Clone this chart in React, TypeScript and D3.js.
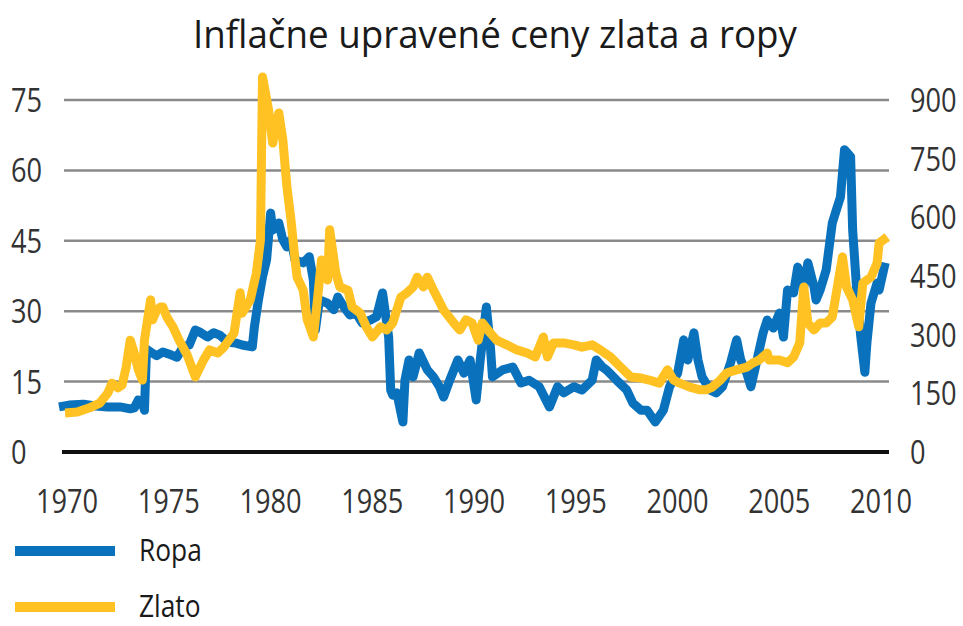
import React from "react";
import * as d3 from "d3";

const title = "Inflačne upravené ceny zlata a ropy";
const xTicks = [1970, 1975, 1980, 1985, 1990, 1995, 2000, 2005, 2010];
const leftTicks = [0, 15, 30, 45, 60, 75];
const rightTicks = [0, 150, 300, 450, 600, 750, 900];
const seriesNames = ["Ropa", "Zlato"];
const seriesColors = ["#0A72BD", "#FFC222"];

const oilYears = [1970.0, 1970.5, 1971.2, 1971.8, 1972.4, 1973.0, 1973.5, 1973.7, 1973.9, 1974.1, 1974.2, 1974.3, 1974.5, 1974.8, 1975.1, 1975.5, 1975.8, 1976.1, 1976.4, 1976.7, 1976.9, 1977.3, 1977.6, 1977.9, 1978.3, 1978.7, 1979.0, 1979.5, 1979.6, 1979.8, 1980.0, 1980.2, 1980.4, 1980.5, 1980.8, 1981.0, 1981.2, 1981.4, 1981.6, 1982.0, 1982.3, 1982.5, 1982.6, 1982.8, 1983.2, 1983.5, 1983.7, 1984.0, 1984.3, 1984.6, 1984.9, 1985.3, 1985.6, 1985.9, 1986.2, 1986.3, 1986.4, 1986.6, 1986.9, 1987.0, 1987.2, 1987.4, 1987.7, 1988.1, 1988.4, 1988.7, 1988.9, 1989.2, 1989.6, 1989.9, 1990.2, 1990.5, 1990.7, 1991.0, 1991.2, 1991.3, 1991.8, 1992.3, 1992.7, 1993.1, 1993.6, 1994.1, 1994.5, 1994.8, 1995.3, 1995.7, 1996.2, 1996.4, 1996.7, 1996.9, 1997.4, 1997.9, 1998.2, 1998.6, 1998.9, 1999.3, 1999.7, 2000.0, 2000.4, 2000.7, 2000.9, 2001.2, 2001.4, 2001.6, 2002.0, 2002.3, 2002.6, 2003.0, 2003.3, 2003.5, 2003.8, 2004.0, 2004.3, 2004.6, 2004.8, 2005.1, 2005.4, 2005.6, 2005.8, 2006.1, 2006.3, 2006.6, 2006.8, 2007.1, 2007.2, 2007.4, 2007.7, 2008.0, 2008.2, 2008.4, 2008.6, 2008.9, 2009.0, 2009.2, 2009.4, 2009.6, 2009.7, 2009.9, 2010.2, 2010.3, 2010.6];
const oilValues = [9.6, 10.0, 10.2, 9.8, 9.6, 9.6, 9.2, 9.4, 11.1, 10.4, 8.9, 21.9, 21.3, 20.5, 21.3, 20.7, 20.2, 22.4, 22.8, 26.0, 25.6, 24.5, 25.4, 24.9, 23.4, 23.2, 22.8, 22.4, 26.6, 32.4, 37.3, 40.9, 50.9, 47.3, 48.8, 45.2, 43.7, 45.2, 40.9, 40.3, 41.6, 36.6, 26.0, 32.4, 31.7, 30.3, 33.0, 30.9, 29.2, 29.6, 27.5, 28.1, 28.8, 33.9, 24.5, 13.2, 12.1, 12.6, 6.4, 15.3, 19.6, 16.0, 21.1, 17.5, 16.0, 13.9, 11.7, 15.3, 19.6, 16.8, 19.6, 11.1, 19.6, 30.9, 22.4, 16.0, 17.5, 18.1, 14.7, 15.3, 13.9, 9.6, 13.9, 12.6, 13.9, 13.2, 15.3, 19.6, 18.1, 17.5, 15.3, 13.2, 10.4, 8.9, 8.9, 6.4, 8.9, 13.9, 16.8, 23.9, 19.6, 25.4, 19.6, 16.0, 13.2, 12.6, 13.9, 19.0, 23.9, 19.6, 16.8, 13.9, 19.6, 25.4, 28.1, 26.4, 29.6, 24.5, 34.5, 33.9, 39.4, 35.2, 40.3, 35.2, 32.4, 34.5, 38.8, 48.8, 51.6, 54.3, 64.4, 62.9, 47.3, 34.5, 24.5, 17.0, 23.2, 31.7, 36.0, 34.5, 40.3];

const goldYears = [1970.3, 1970.9, 1971.5, 1972.0, 1972.4, 1972.6, 1972.9, 1973.1, 1973.3, 1973.5, 1973.7, 1973.9, 1974.1, 1974.2, 1974.5, 1974.6, 1974.8, 1975.0, 1975.1, 1975.3, 1975.6, 1975.9, 1976.3, 1976.7, 1977.1, 1977.4, 1977.8, 1978.1, 1978.6, 1978.9, 1979.0, 1979.4, 1979.7, 1979.9, 1980.0, 1980.3, 1980.5, 1980.8, 1981.0, 1981.2, 1981.4, 1981.6, 1981.7, 1982.0, 1982.2, 1982.5, 1982.7, 1982.9, 1983.2, 1983.3, 1983.6, 1983.8, 1984.2, 1984.4, 1984.8, 1985.1, 1985.4, 1985.8, 1986.1, 1986.4, 1986.8, 1987.1, 1987.4, 1987.6, 1987.9, 1988.1, 1988.4, 1988.9, 1989.4, 1989.7, 1990.0, 1990.3, 1990.6, 1990.8, 1991.2, 1991.5, 1992.0, 1992.5, 1993.0, 1993.4, 1993.6, 1993.8, 1994.0, 1994.3, 1994.8, 1995.3, 1995.7, 1996.2, 1996.6, 1997.1, 1997.6, 1998.1, 1998.6, 1999.0, 1999.5, 1999.9, 2000.2, 2000.5, 2001.0, 2001.5, 2001.8, 2002.1, 2002.5, 2002.8, 2003.3, 2003.8, 2004.1, 2004.4, 2004.8, 2004.9, 2005.4, 2005.8, 2006.1, 2006.4, 2006.6, 2006.8, 2007.1, 2007.4, 2007.7, 2008.0, 2008.2, 2008.5, 2008.7, 2009.0, 2009.3, 2009.5, 2009.9, 2010.2, 2010.3, 2010.7];
const goldValues = [100, 102, 113, 125, 151, 176, 164, 171, 217, 286, 253, 210, 184, 286, 389, 338, 363, 371, 371, 345, 320, 286, 248, 192, 235, 261, 253, 268, 304, 407, 355, 389, 458, 542, 959, 874, 790, 867, 798, 678, 593, 491, 447, 414, 338, 294, 389, 491, 440, 568, 458, 422, 414, 371, 355, 320, 294, 320, 312, 330, 396, 407, 422, 447, 422, 447, 414, 363, 330, 312, 338, 330, 286, 330, 304, 286, 274, 261, 253, 243, 268, 294, 243, 279, 279, 274, 268, 274, 261, 243, 217, 192, 189, 184, 176, 210, 184, 176, 166, 159, 159, 166, 184, 202, 210, 217, 228, 235, 253, 235, 235, 228, 243, 279, 422, 330, 312, 330, 330, 345, 407, 499, 422, 389, 320, 432, 447, 483, 534, 550];

const W = 963;
const H = 626;
const FONT = "'Open Sans', 'DejaVu Sans', sans-serif";
const SX = 0.85;

function Label(props: {
  x: number;
  y: number;
  text: string | number;
  anchor?: string;
  size?: number;
  fill?: string;
}) {
  const { x, y, text, anchor = "start", size = 32, fill = "#333" } = props;
  return (
    <text
      transform={`translate(${x},${y}) scale(${SX},1)`}
      textAnchor={anchor}
      fontSize={size}
      fill={fill}
    >
      {text}
    </text>
  );
}

export default function App() {
  const x = d3.scaleLinear().domain([1970, 2010]).range([59, 873]);
  const yL = d3.scaleLinear().domain([0, 75]).range([452, 100]);
  const yR = d3.scaleLinear().domain([0, 900]).range([452, 100]);

  const oilData = oilYears.map((yr, i) => [yr, oilValues[i]] as [number, number]);
  const goldData = goldYears.map((yr, i) => [yr, goldValues[i]] as [number, number]);

  const oilLine = d3
    .line<[number, number]>()
    .x((d) => x(d[0]))
    .y((d) => yL(d[1]));
  const goldLine = d3
    .line<[number, number]>()
    .x((d) => x(d[0]))
    .y((d) => yR(d[1]));

  const gridX0 = 64;
  const gridX1 = 889;
  const legendY = [551, 607];

  return (
    <svg
      width={W}
      height={H}
      style={{ position: "absolute", left: 0, top: 0, background: "#fff" }}
      fontFamily={FONT}
    >
      <rect x={0} y={0} width={W} height={H} fill="#fff" />
      <text
        x={495}
        y={48}
        textAnchor="middle"
        fontSize={38}
        fill="#1a1a1a"
        textLength={604}
        lengthAdjust="spacingAndGlyphs"
      >
        {title}
      </text>

      {leftTicks
        .filter((t) => t !== 0)
        .map((t) => (
          <line
            key={"g" + t}
            x1={gridX0}
            x2={gridX1}
            y1={yL(t)}
            y2={yL(t)}
            stroke="#8a8a8a"
            strokeWidth={2.5}
          />
        ))}

      {leftTicks.map((t) => (
        <Label key={"l" + t} x={11} y={yL(t) + 12} text={t} />
      ))}
      {rightTicks.map((t) => (
        <Label key={"r" + t} x={910} y={yR(t) + 12} text={t} />
      ))}
      {xTicks.map((t) => (
        <Label key={"x" + t} x={x(t) + 8} y={513} text={t} anchor="middle" />
      ))}

      <path
        d={oilLine(oilData) || ""}
        fill="none"
        stroke={seriesColors[0]}
        strokeWidth={9}
        strokeLinejoin="round"
      />
      <path
        d={goldLine(goldData) || ""}
        fill="none"
        stroke={seriesColors[1]}
        strokeWidth={9}
        strokeLinejoin="round"
      />

      <line x1={62} x2={gridX1} y1={yL(0)} y2={yL(0)} stroke="#111" strokeWidth={4} />

      {seriesNames.map((name, i) => (
        <g key={name}>
          <line
            x1={15}
            x2={115}
            y1={legendY[i]}
            y2={legendY[i]}
            stroke={seriesColors[i]}
            strokeWidth={10}
          />
          <Label x={139} y={legendY[i] + 10} size={31} text={name} fill="#1a1a1a" />
        </g>
      ))}
    </svg>
  );
}
